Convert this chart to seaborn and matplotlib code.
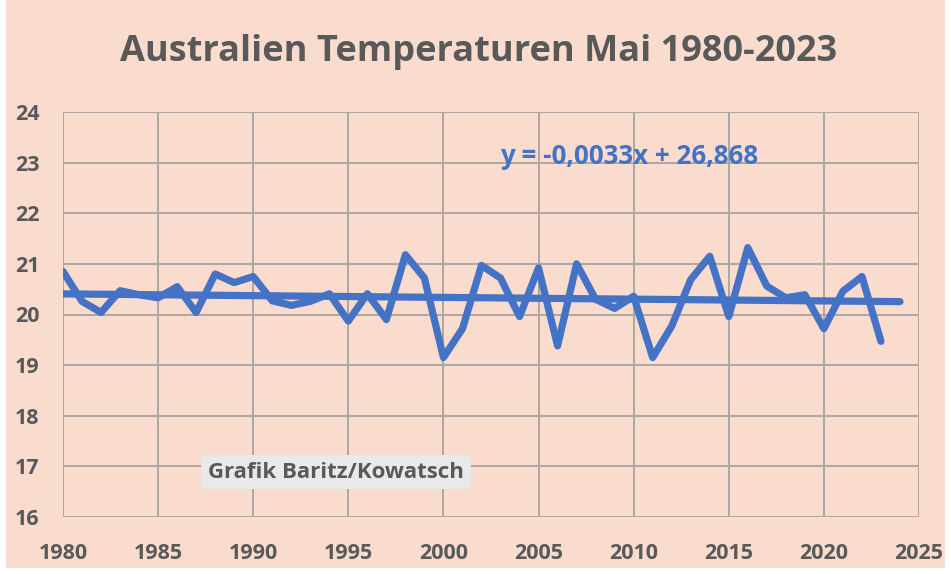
import numpy as np
import pandas as pd
import matplotlib

matplotlib.use('Agg')
import matplotlib.pyplot as plt
from matplotlib.patches import Rectangle
import seaborn as sns

# Mai-Temperaturen Australien
years = list(range(1980, 2024))
temps = [20.85, 20.26, 20.04, 20.47, 20.39, 20.33, 20.55, 20.04, 20.80, 20.63,
         20.75, 20.27, 20.18, 20.26, 20.41, 19.87, 20.41, 19.90, 21.18, 20.72,
         19.15, 19.72, 20.97, 20.72, 19.96, 20.92, 19.38, 21.00, 20.30, 20.12,
         20.36, 19.15, 19.77, 20.69, 21.15, 19.96, 21.32, 20.56, 20.33, 20.39,
         19.72, 20.46, 20.75, 19.47]
x_ticks = [1980, 1985, 1990, 1995, 2000, 2005, 2010, 2015, 2020, 2025]
y_ticks = [16, 17, 18, 19, 20, 21, 22, 23, 24]
title = 'Australien Temperaturen Mai 1980-2023'
equation = 'y = -0,0033x + 26,868'
credit = 'Grafik Baritz/Kowatsch'

bg = '#FADCCF'
blue = '#4472C4'
gray_txt = '#595959'
grid_col = '#ABA7A3'

sns.set_theme(style='white')
plt.rcParams['font.family'] = ['Open Sans', 'DejaVu Sans']

df = pd.DataFrame({'Jahr': years, 'Temp': temps})

# lineare Trendlinie, ein Jahr in die Zukunft verlaengert
coef = np.polyfit(df['Jahr'], df['Temp'], 1)
trend_years = np.arange(1980, 2025)
trend = pd.DataFrame({'Jahr': trend_years, 'Temp': np.polyval(coef, trend_years)})

fig = plt.figure(figsize=(9.51, 5.74), dpi=100)
fig.patch.set_facecolor('white')
fig.patches.append(Rectangle((6 / 951, 6 / 574), 939 / 951, 568 / 574,
                             transform=fig.transFigure, facecolor=bg,
                             edgecolor='none', zorder=-10))

ax = fig.add_axes([63 / 951, 1 - 517 / 574, 856 / 951, 405 / 574])
ax.set_facecolor(bg)

sns.lineplot(data=df, x='Jahr', y='Temp', ax=ax, color=blue, linewidth=5.2,
             solid_capstyle='round', solid_joinstyle='round', zorder=3)
sns.lineplot(data=trend, x='Jahr', y='Temp', ax=ax, color=blue, linewidth=5.2,
             solid_capstyle='round', zorder=3)

ax.set_xlim(1980, 2025)
ax.set_ylim(16, 24)
ax.set_xticks(x_ticks)
ax.set_yticks(y_ticks)
ax.grid(True, color=grid_col, linewidth=1.4)
ax.set_axisbelow(True)
for s in ax.spines.values():
    s.set_visible(False)
ax.tick_params(axis='both', length=0, labelsize=15.5, labelcolor=gray_txt)
ax.tick_params(axis='x', pad=19)
ax.tick_params(axis='y', pad=17)
for lbl in ax.get_xticklabels() + ax.get_yticklabels():
    lbl.set_fontweight('bold')
ax.set_xlabel('')
ax.set_ylabel('')

fig.text(479 / 951, 1 - 52 / 574, title, ha='center', va='center',
         fontsize=26, fontweight='bold', color=gray_txt)

fig.text(629 / 951, 1 - 156 / 574, equation, ha='center', va='center',
         fontsize=18.7, fontweight='bold', color=blue)

fig.text(336 / 951, 1 - 472 / 574, credit, ha='center', va='center',
         fontsize=16, fontweight='bold', color=gray_txt,
         bbox=dict(boxstyle='square,pad=0.3', facecolor='#E9E9E9',
                   edgecolor='none'))

fig.savefig('out.png', dpi=100, facecolor=fig.get_facecolor())
plt.close(fig)
